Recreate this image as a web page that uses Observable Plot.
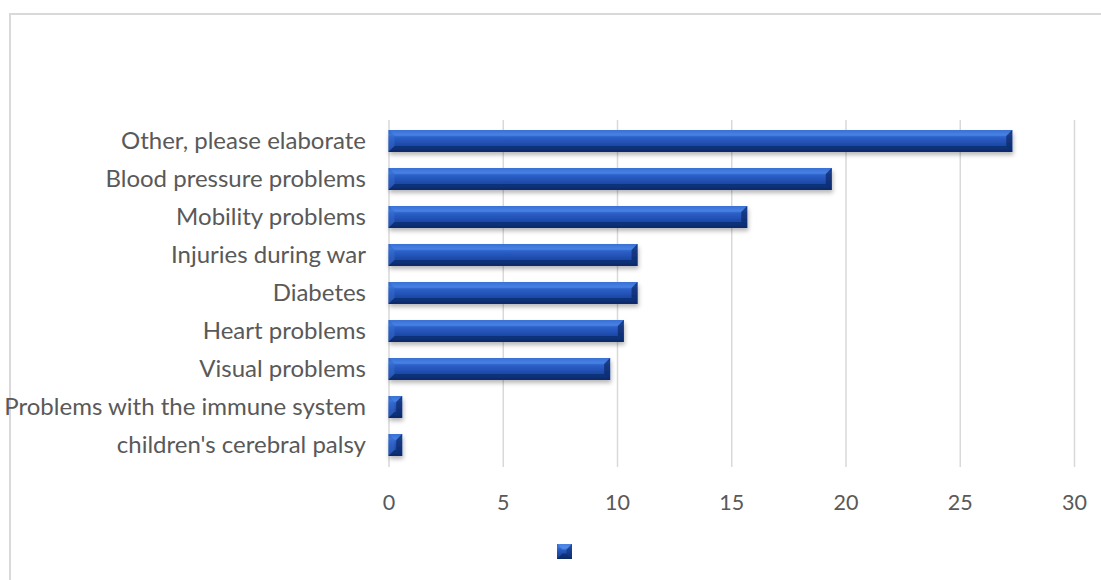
<!DOCTYPE html>
<html>
<head>
<meta charset="utf-8">
<script src="https://cdn.jsdelivr.net/npm/d3@7"></script>
<script src="https://cdn.jsdelivr.net/npm/@observablehq/plot@0.6"></script>
<style>
  html, body { margin: 0; padding: 0; background: #fff; }
  #chart { position: relative; width: 1101px; height: 580px; overflow: hidden; background: #fff; }
  #frame { position: absolute; left: 9px; top: 13px; width: 1200px; height: 800px; border: 2px solid #d9d9d9; box-sizing: border-box; }
  #plot { position: absolute; left: 0; top: 0; }
  #legend { position: absolute; left: 557px; top: 544px; width: 15px; height: 15px; }
</style>
</head>
<body>
<svg width="0" height="0" style="position:absolute">
  <defs>
    <linearGradient id="barFill" x1="0" y1="0" x2="0" y2="1">
      <stop offset="0" stop-color="#2558bd"/>
      <stop offset="0.2" stop-color="#3b76da"/>
      <stop offset="0.34" stop-color="#2b60c7"/>
      <stop offset="0.6" stop-color="#1f4fb0"/>
      <stop offset="0.85" stop-color="#18439c"/>
      <stop offset="1" stop-color="#103482"/>
    </linearGradient>
    <filter id="barShadow" x="-5%" y="-30%" width="110%" height="170%">
      <feDropShadow dx="1" dy="3" stdDeviation="2" flood-color="#000" flood-opacity="0.28"/>
    </filter>
  </defs>
</svg>
<div id="chart">
  <div id="frame"></div>
  <div id="plot"></div>
  <svg id="legend" width="15" height="15"></svg>
</div>
<script>
// Health problems reported (share of respondents)
const categories = [
  "Other, please elaborate",
  "Blood pressure problems",
  "Mobility problems",
  "Injuries during war",
  "Diabetes",
  "Heart problems",
  "Visual problems",
  "Problems with the immune system",
  "children's cerebral palsy"
];
const values = [27.3, 19.4, 15.7, 10.9, 10.9, 10.3, 9.7, 0.6, 0.6];
const xTicks = [0, 5, 10, 15, 20, 25, 30];

const data = categories.map((category, i) => ({category, value: values[i]}));

const NS = "http://www.w3.org/2000/svg";
function poly(points, fill, opacity) {
  const p = document.createElementNS(NS, "polygon");
  p.setAttribute("points", points.map(d => d.join(",")).join(" "));
  p.setAttribute("fill", fill);
  p.setAttribute("fill-opacity", opacity);
  return p;
}

// Adds bevelled edges on top of each rendered bar
function bevel(index, scales, values, dimensions, context, next) {
  const g = next(index, scales, values, dimensions, context);
  g.setAttribute("filter", "url(#barShadow)");
  const rects = Array.from(g.querySelectorAll("rect"));
  for (const r of rects) {
    const x = +r.getAttribute("x"), y = +r.getAttribute("y");
    const w = +r.getAttribute("width"), h = +r.getAttribute("height");
    const b = Math.min(6, w / 2, h / 2);
    const parent = r.parentNode;
    parent.appendChild(poly([[x, y], [x + w, y], [x + w - b, y + b], [x + b, y + b]], "#4f89ea", 0.5));
    parent.appendChild(poly([[x, y], [x + b, y + b], [x + b, y + h - b], [x, y + h]], "#3b70d2", 0.45));
    parent.appendChild(poly([[x + w, y], [x + w, y + h], [x + w - b, y + h - b], [x + w - b, y + b]], "#0a2460", 0.65));
    parent.appendChild(poly([[x, y + h], [x + w, y + h], [x + w - b, y + h - b], [x + b, y + h - b]], "#061a48", 0.45));
  }
  return g;
}

const chart = Plot.plot({
  width: 1101,
  height: 530,
  marginLeft: 388.5,
  marginRight: 27,
  marginTop: 120,
  marginBottom: 63,
  style: {fontFamily: "Lato, 'Open Sans', sans-serif", background: "transparent", overflow: "visible"},
  x: {domain: [0, 30]},
  y: {domain: categories, paddingInner: 0.42, paddingOuter: 0.17},
  marks: [
    Plot.gridX(xTicks, {stroke: "#d9d9d9", strokeOpacity: 1, strokeWidth: 1.5}),
    Plot.axisX(xTicks, {anchor: "bottom", tickSize: 0, tickPadding: 27, fontSize: 21.5, color: "#595959", label: null}),
    Plot.axisY({tickSize: 0, tickPadding: 23, fontSize: 24, color: "#595959", label: null}),
    Plot.barX(data, {x: "value", y: "category", fill: "url(#barFill)", render: bevel})
  ]
});
document.getElementById("plot").appendChild(chart);

// Legend swatch for the single series
const lg = document.getElementById("legend");
const sw = document.createElementNS(NS, "rect");
sw.setAttribute("x", 0); sw.setAttribute("y", 0);
sw.setAttribute("width", 15); sw.setAttribute("height", 15);
sw.setAttribute("fill", "url(#barFill)");
lg.appendChild(sw);
lg.appendChild(poly([[0, 0], [15, 0], [9.5, 5.5], [5.5, 5.5]], "#5b93f0", 0.7));
lg.appendChild(poly([[15, 0], [15, 15], [9.5, 9.5], [9.5, 5.5]], "#0a2460", 0.5));
lg.appendChild(poly([[0, 15], [15, 15], [9.5, 9.5], [5.5, 9.5]], "#061a48", 0.5));
</script>
</body>
</html>
